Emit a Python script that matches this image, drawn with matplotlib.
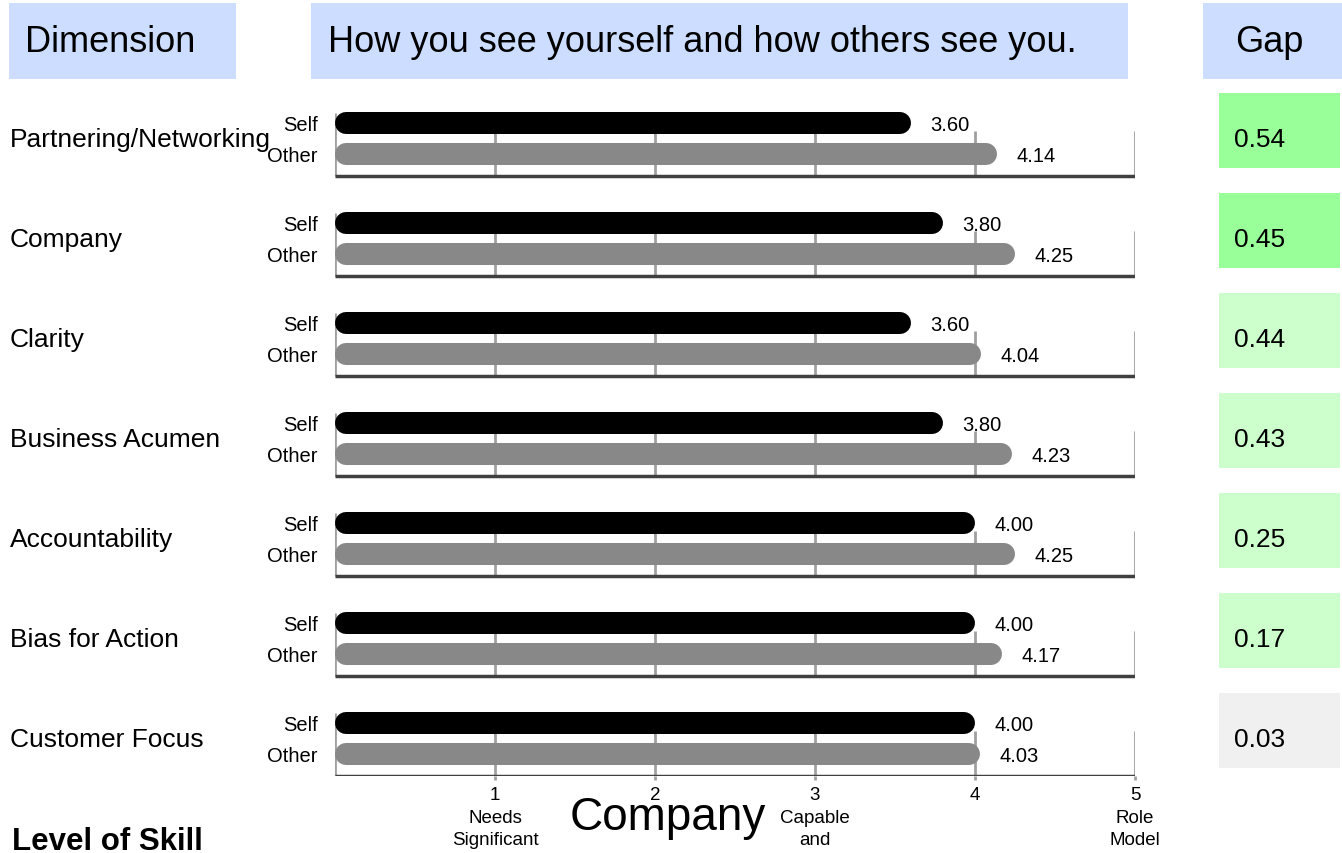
import matplotlib
matplotlib.use('Agg')
import matplotlib.pyplot as plt
from matplotlib.patches import Rectangle

plt.rcParams['font.family'] = 'Liberation Sans'

# data
dimensiones = ['Partnering/Networking', 'Company', 'Clarity', 'Business Acumen',
               'Accountability', 'Bias for Action', 'Customer Focus']
self_score = [3.60, 3.80, 3.60, 3.80, 4.00, 4.00, 4.00]
other_score = [4.14, 4.25, 4.04, 4.23, 4.25, 4.17, 4.03]
gap = [0.54, 0.45, 0.44, 0.43, 0.25, 0.17, 0.03]
ticks = [1, 2, 3, 4, 5]
tick_labels = ['1\nNeeds\nSignificant', '2', '3\nCapable\nand', '4', '5\nRole\nModel']

W, H = 1342, 854
fig = plt.figure(figsize=(W / 100, H / 100), dpi=100)

# axis area: x 0..5 -> px 335..1135, y in pixel units
ax = fig.add_axes([335 / W, (H - 777) / H, 800 / W, 777 / H])
ax.set_xlim(0, 5)
ax.set_ylim(777, 0)
for s in ax.spines.values():
    s.set_visible(False)
ax.set_yticks([])
ax.set_xticks(ticks)
ax.set_xticklabels(tick_labels, fontsize=13.5, linespacing=1.45)
ax.tick_params(axis='x', length=3, width=2, color='#a0a0a0', pad=4)


def caja(x, y, w, h, color):
    fig.add_artist(Rectangle((x / W, 1 - (y + h) / H), w / W, h / H,
                             transform=fig.transFigure, color=color, lw=0))


def texto(x, y, s, **kw):
    fig.text(x / W, 1 - y / H, s, **kw)


# headers
caja(9, 4, 227, 76, '#ccddff')
caja(311, 4, 817, 76, '#ccddff')
caja(1203, 4, 139, 76, '#ccddff')
texto(25, 42, 'Dimension', fontsize=26, va='center')
texto(328, 42, 'How you see yourself and how others see you.', fontsize=26, va='center')
texto(1269, 42, 'Gap', fontsize=26, va='center', ha='center')

r = 11 / 160  # radio del extremo redondeado en unidades de datos
lw_bar = 22 * 0.72

for i in range(len(dimensiones)):
    y0 = 100 * i
    y_self = 124 + y0
    y_other = 155 + y0
    y_base = 177 + y0

    # lineas de fondo
    ax.vlines(ticks, 132 + y0, y_base, color='#a0a0a0', lw=2, zorder=1)
    ax.vlines(0, 114 + y0, y_base, color='#a0a0a0', lw=2, zorder=1)
    ax.hlines(y_base, 0, 5, color='#404040', lw=2.5, zorder=2)

    # barras redondeadas
    ax.plot([r, self_score[i] - r], [y_self, y_self], color='black',
            lw=lw_bar, solid_capstyle='round', zorder=3)
    ax.plot([r, other_score[i] - r], [y_other, y_other], color='#888888',
            lw=lw_bar, solid_capstyle='round', zorder=3)

    ax.text(self_score[i] + 0.12, y_self + 7, f'{self_score[i]:.2f}',
            fontsize=14.5, va='baseline', zorder=4)
    ax.text(other_score[i] + 0.12, y_other + 7, f'{other_score[i]:.2f}',
            fontsize=14.5, va='baseline', zorder=4)

    texto(318, y_self + 7, 'Self', fontsize=14.5, ha='right', va='baseline')
    texto(318, y_other + 7, 'Other', fontsize=14.5, ha='right', va='baseline')
    texto(10, 147 + y0, dimensiones[i], fontsize=19, va='baseline')

    # gap
    if gap[i] >= 0.45:
        col = '#99ff99'
    elif gap[i] >= 0.1:
        col = '#ccffcc'
    else:
        col = '#f0f0f0'
    caja(1219, 94 + y0, 121, 75, col)
    texto(1234, 147 + y0, f'{gap[i]:.2f}', fontsize=19, va='baseline')

texto(668, 830, 'Company', fontsize=33, ha='center', va='baseline')
texto(12, 850, 'Level of Skill', fontsize=22.5, fontweight='bold', va='baseline')

fig.savefig('out.png', dpi=100)
